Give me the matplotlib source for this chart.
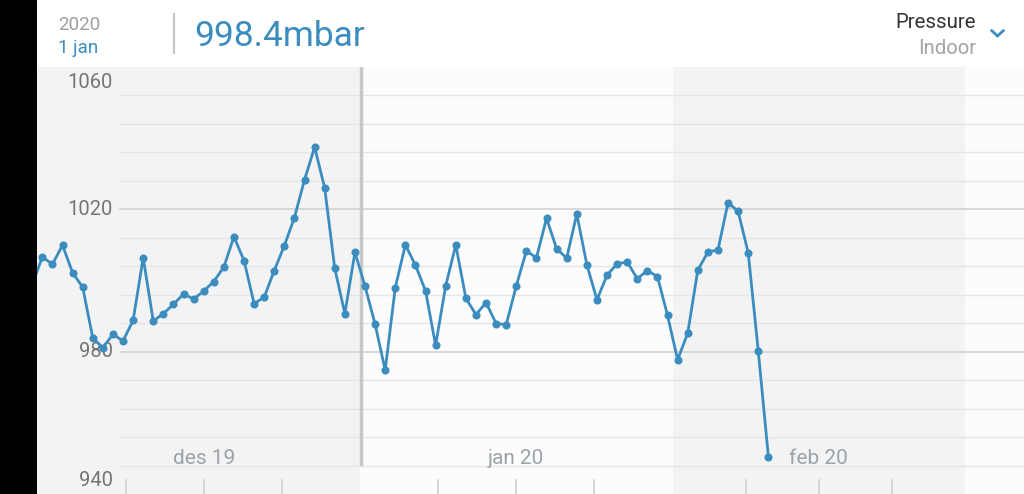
import numpy as np
import pandas as pd
import matplotlib
matplotlib.use("Agg")
import matplotlib.pyplot as plt
import matplotlib.dates as mdates

plt.rcParams['font.family'] = ['Roboto', 'DejaVu Sans']

# daily indoor pressure, mbar (29 nov 2019 .. 10 feb 2020)
first_day = '2019-11-29 12:00'
pressure = [999.0, 1006.6,
            1004.6, 1009.9, 1002.2, 998.1, 983.9, 981.1, 984.9, 983.0, 988.8, 1006.4,
            988.6, 990.7, 993.3, 996.2, 994.8, 997.0, 999.7, 1003.8, 1012.3, 1005.6,
            993.5, 995.3, 1002.8, 1009.8, 1017.7, 1028.3, 1037.5, 1026.0, 1003.4, 990.7,
            1007.9,
            998.4, 987.7, 974.8, 998.0, 1010.0, 1004.3, 997.1, 981.8, 998.5, 1010.0,
            995.0, 990.4, 993.8, 987.9, 987.6, 998.5, 1008.3, 1006.4, 1017.5, 1008.9,
            1006.3, 1018.7, 1004.4, 994.6, 1001.5, 1004.7, 1005.2, 1000.5, 1002.8, 1001.1,
            990.2,
            977.7, 985.2, 1002.9, 1008.0, 1008.6, 1021.9, 1019.4, 1007.8, 980.1, 950.5]
months = ['2019-12-01', '2020-01-01', '2020-02-01', '2020-03-01']
month_labels = ['des 19', 'jan 20', 'feb 20']
y_labels = [940, 980, 1020, 1060]
selected_day = '2020-01-01'
selected_value = '998.4mbar'

days = pd.date_range(first_day, periods=len(pressure), freq='D')
month_starts = pd.to_datetime(months)

BLUE = '#3b8dbf'
W, H = 1024, 494

fig = plt.figure(figsize=(W / 100, H / 100), dpi=100, facecolor='black')

# ---- chart ----
ax = fig.add_axes([37 / W, 0, 987 / W, 427 / H])
ax.set_facecolor('#fcfcfc')
jan1 = mdates.date2num(pd.Timestamp('2020-01-01'))
x0, x1 = jan1 - 32.03, jan1 + 65.85
ax.set_xlim(x0, x1)
ax.set_ylim(940, 1060)
for s in ax.spines.values():
    s.set_visible(False)
ax.set_xticks([])
ax.set_yticks([])

ms = mdates.date2num(month_starts)
ax.axvspan(x0, ms[1], color='#f3f3f3', lw=0, zorder=0)
ax.axvspan(ms[2], ms[3], color='#f3f3f3', lw=0, zorder=0)

# horizontal grid
for v in np.arange(948, 1060, 8):
    major = (v % 40 == 20)
    ax.axhline(v, xmin=83 / 987, xmax=1, color='#d2d2d2' if major else '#e6e6e6',
               lw=1.2 if major else 1.0, zorder=1)

# y labels, kept inside the plot
for v in y_labels:
    yv = min(max(v, 943.7), 1055.6)
    ax.text(76 / 987, yv, str(v), transform=ax.get_yaxis_transform(), ha='right',
            va='center', fontsize=14.5, color='#757575', zorder=3)

# month labels and quarter ticks
for i, lab in enumerate(month_labels):
    mid = (ms[i] + ms[i + 1]) / 2
    ax.text(mid, 949.9, lab, ha='center', va='center', fontsize=15,
            color='#9ba3a9', zorder=3)
    step = (ms[i + 1] - ms[i]) / 4
    for k in range(1, 4):
        ax.axvline(ms[i] + k * step, ymin=0, ymax=14 / 427, color='#d0d0d0', lw=1.2)

# selection cursor
ax.axvline(mdates.date2num(pd.Timestamp(selected_day)) + 0.1, ymin=30 / 427, ymax=1,
           color='#c8c8c8', lw=2.5, zorder=2)

ax.plot(days, pressure, color=BLUE, lw=2.0, marker='o', ms=4.8, zorder=5,
        solid_joinstyle='round')

# ---- header ----
hx = fig.add_axes([37 / W, 427 / H, 987 / W, 67 / H])
hx.set_facecolor('white')
hx.set_xlim(37, 1024)
hx.set_ylim(67, 0)
hx.axis('off')
hx.add_patch(plt.Rectangle((37, 0), 987, 67, color='white', zorder=0))

hx.text(58, 25, selected_day[:4], ha='left', va='center', fontsize=13.5, color='#9e9e9e')
hx.text(58, 48, '1 jan', ha='left', va='center', fontsize=13.5, color=BLUE)
hx.plot([174, 174], [14, 53], color='#c4c4c4', lw=1.5)
hx.text(194, 37, selected_value, ha='left', va='center', fontsize=25.5, color=BLUE)
hx.text(976, 22, 'Pressure', ha='right', va='center', fontsize=14.7, color='#333333')
hx.text(976, 49, 'Indoor', ha='right', va='center', fontsize=14.7, color='#a3a3a3')
hx.plot([991.5, 997.5, 1003.5], [30.5, 36, 30.5], color=BLUE, lw=2.0,
        solid_capstyle='round', solid_joinstyle='miter')

fig.savefig('out.png', dpi=100, facecolor=fig.get_facecolor())
